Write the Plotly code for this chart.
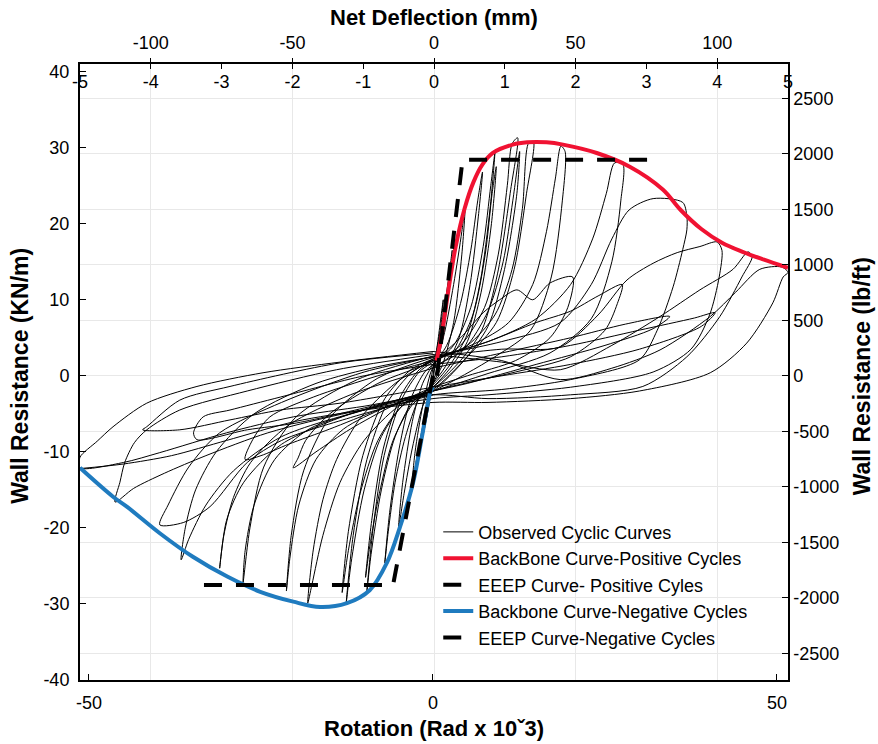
import plotly.graph_objects as go

# ---------------- data (Rotation in Rad x 10^-3, Wall resistance in kN/m) ----------------
backbone_pos_rot = [0.5, 1.2, 2.2, 3.3, 4.6, 5.9, 7.2, 8.7, 11.6, 13.7, 16.5, 18.9, 23.8, 28.6, 33.4, 36.0, 39.0, 42.0, 45.0, 48.0, 51.6]
backbone_pos_kn = [2.0, 5.0, 11.0, 17.0, 22.0, 25.5, 27.8, 29.3, 30.4, 30.7, 30.7, 30.4, 29.3, 27.5, 24.5, 21.8, 19.3, 17.5, 16.3, 15.3, 14.2]

backbone_neg_rot = [0.0, -0.4, -1.5, -2.9, -4.8, -6.7, -9.2, -12.5, -16.4, -20.3, -25.1, -29.9, -34.9, -39.7, -44.5, -46.5, -51.3]
backbone_neg_kn = [-1.5, -2.2, -7.5, -14.1, -19.9, -24.6, -28.2, -29.9, -30.4, -29.7, -28.4, -26.4, -23.8, -20.7, -17.2, -15.9, -12.1]

eeep_pos_rot = [0.6, 4.3, 32.0]
eeep_pos_kn = [0.0, 28.4, 28.4]
eeep_neg_rot = [0.0, -5.8, -34.3]
eeep_neg_kn = [0.0, -27.5, -27.5]

# observed cyclic loops, each a list of (rotation, kN/m) points
loop_01 = [(0,0),(0.7,4.5),(1.5,10),(1.2,7),(0.5,2.5),(0,-0.5),(-0.7,-4.5),(-1.5,-8),(-1.2,-5.5),(-0.5,-1.5),(0,1)]
loop_02 = [(0,1),(1.3,7),(2.3,13),(2.8,16.5),(2.4,12),(1.4,5),(0.3,0),(-1,-4.5),(-2.2,-10),(-3,-14),(-2.6,-10),(-1.5,-4),(-0.3,0.5),(0.5,2)]
loop_03 = [(0,1),(1.5,5),(3,12),(4.2,19),(4.7,22.5),(4.2,16),(3,7),(1.4,1.5),(0,-1),(-1.5,-4),(-3,-9.5),(-4.2,-15.5),(-5,-20),(-4.4,-14),(-3,-6),(-1.5,-1),(0,1.5)]
loop_04 = [(0,1.5),(2,4),(4,9.5),(5.5,16.5),(6.5,23),(7.2,26.8),(6.6,21),(5.4,12),(3.8,5),(1.8,1.2),(0,-1),(-2,-3),(-4,-8),(-5.5,-14),(-6.5,-20.5),(-7,-24.6),(-6.3,-18),(-4.9,-9.5),(-3.2,-3),(-1.2,0.5),(0,1.5)]
loop_05 = [(0,1.5),(3,4),(5.5,9),(7.3,17),(8.4,25),(9,29.3),(8.3,22),(6.9,12.5),(5,5.5),(2.6,1.6),(0,-1.2),(-3,-3.5),(-5.5,-8),(-7.5,-15),(-9,-23.5),(-9.6,-28.3),(-8.7,-20),(-7.1,-10.5),(-4.6,-3.2),(-2,0.5),(0,1.8)]
loop_06 = [(0,1),(3,3),(5.8,8),(7.6,16),(8.6,24),(9.2,27.5),(8.5,20),(7,11),(5,4.5),(2.5,1),(0,-1.5),(-3,-3.8),(-5.8,-8.5),(-7.8,-15.5),(-9.2,-22.5),(-9.8,-26.5),(-8.9,-19),(-7.2,-9.5),(-4.6,-2.5),(-2,0.8),(0,2)]
loop_07 = [(0,1.8),(4,4),(7.5,9),(9.5,16),(10.8,25),(11.5,30.5),(12.3,31.3),(11.3,24.5),(9.4,13.5),(7.1,6),(4,2),(0,-1.5),(-4,-3.5),(-7.5,-8),(-10,-15),(-11.8,-24),(-12.6,-29.8),(-11.6,-21),(-9.6,-11),(-6.6,-3.5),(-3,0.5),(0,2)]
loop_08 = [(0,1.2),(4.5,3.5),(8,8.5),(10.2,15),(11.6,23),(12.6,29.5),(12.2,24),(10.4,14),(8,6.5),(4.5,2),(0,-2),(-4.5,-4),(-8,-8.5),(-10.6,-15.5),(-12.3,-23),(-13.2,-28.5),(-12.3,-20.5),(-10.2,-10.5),(-7,-3),(-3.2,0.8),(0,2.2)]
loop_09 = [(0,2),(5,4),(9,8),(11.5,14),(13,22),(13.9,30.6),(14.6,30.8),(13.6,24),(11.8,14),(9.2,7),(5,2.5),(0,-1.8),(-5,-4),(-10,-8.5),(-13.5,-14),(-16,-21),(-17.6,-27.5),(-18.2,-29.9),(-17.4,-22.9),(-16,-16.3),(-14,-11),(-10.5,-5.5),(-5.5,-1),(0,2.2)]
loop_10 = [(0,2.2),(6,4.2),(11,7),(14.5,12),(16.5,19),(17.8,26),(18.6,30.2),(19.2,29.5),(18.8,23),(17.2,13),(14.2,6),(9,2.5),(0,-2),(-7,-4.2),(-13,-7),(-17,-11),(-19.5,-17),(-20.8,-24),(-21.3,-28.3),(-20.6,-21),(-18.8,-12.5),(-15,-5.5),(-8,-0.3),(0,2.4)]
loop_11 = [(0,2.4),(8,4.5),(15,7.5),(20,12),(23.2,18),(25.2,24),(26.4,28),(27.6,27.8),(27.3,23),(26,15),(23,7.5),(17,3),(8,0.3),(0,-2),(-10,-4.5),(-18,-7),(-23,-11),(-26,-17),(-27.3,-23),(-27.6,-27.2),(-26.6,-20),(-24.6,-12),(-20,-5.5),(-11,-0.5),(0,2.6)]
loop_12 = [(0,2.6),(10,4.5),(18.5,7),(23,12),(26,18),(28.5,21.8),(32,23.3),(36.3,22.8),(36.9,21),(36.9,19.2),(36.3,16.6),(34.9,11.7),(32.6,6),(30,2.1),(20,-0.5),(10,-1.8),(0,-2.5),(-10,-4.5),(-22,-8),(-29,-12.5),(-33,-17),(-35.5,-21.5),(-36.6,-24.2),(-36,-20),(-34.5,-15),(-31.5,-10),(-26,-5),(-17,-1),(-8,1.2),(0,2.5)]
loop_13 = [(0,2.5),(10,3.5),(18.5,3.8),(24,8),(28.2,12.6),(32,14.8),(35.5,16.2),(38.8,17),(41.3,17.6),(42,16.5),(41.6,13),(40.2,8),(37.5,3.5),(32,0.5),(20,-1.5),(8,-2.5),(0,-3),(-12,-4.8),(-24,-7.5),(-33,-10.5),(-39,-12.8),(-43.5,-14.8),(-46.2,-16.6),(-45.5,-14),(-44.8,-11.4),(-43.4,-8.8),(-41.6,-7.1),(-36.8,-4.5),(-27,-2),(-14,0.8),(0,2.8)]
loop_14 = [(0,2.8),(10,1.8),(18.5,0.8),(26,4),(33,7.8),(38.8,11.3),(43.6,14),(45.8,16.3),(46.4,15.7),(44.9,13),(41.7,7.8),(36.9,2.5),(30.5,-1.4),(20,-2.5),(8,-3),(0,-2.5),(-10,-4),(-20.3,-5.4),(-30,-7.5),(-39.7,-10.1),(-45,-11.4),(-51.3,-12.1),(-51.3,-10.7),(-48.8,-8.6),(-46.5,-6.7),(-41.6,-3.6),(-34.3,-1.4),(-24.7,0.4),(-13.5,1.8),(0,3.2)]
loop_15 = [(0,3.2),(10,2),(18.5,-0.5),(26,1),(33,3.4),(40.3,7.8),(44,11),(47.5,14),(50.7,14.3),(51.6,13.6),(50.9,13),(49.4,9.6),(45.6,4.3),(40.3,0.4),(30,-2),(20,-3),(8,-3.5),(0,-3.5),(-10,-4.5),(-20,-6),(-30,-8.5),(-38,-10.5),(-45,-11.6),(-51.3,-12.2)]
loop_16 = [(0,2),(4,5),(7.3,8.3),(9.7,10),(12.2,11.3),(14.5,10),(17,12.2),(20.3,13),(19.6,9),(17,5),(12,2),(5,0),(0,-1.5),(-6,-4),(-12,-7),(-17,-10),(-20.3,-12.1),(-19.6,-10.8),(-18.5,-8.5),(-15,-5),(-8,-1),(0,2)]
loop_17 = [(0,2.2),(8,4.5),(15,7),(20,8.5),(24,10.5),(27.5,12),(26.8,9.5),(25,6),(20,2.5),(12,0.5),(0,-2),(-8,-4.5),(-15,-7),(-21,-9),(-25,-10.5),(-27.3,-11),(-26.2,-8.4),(-23.7,-5.4),(-17.4,-2.8),(-8,0),(0,2)]
loop_18 = [(0,1),(10,3),(20,5),(28,6.8),(34.4,7.8),(32,6.2),(25,4),(15,1.5),(5,-1),(0,-2),(-8,-3.8),(-19.8,-6.2),(-27,-7.1),(-34.3,-8.4),(-34.8,-7.5),(-33.4,-5.4),(-29.5,-4.5),(-22.2,-2.8),(-10,0),(0,1.5)]
loop_19 = [(0,1.5),(10,2.5),(20,4),(30,6),(38,7.6),(41,8.3),(39,6.5),(30,3.5),(20,1.5),(10,0),(0,-1.5),(-13.5,-3.6),(-22.2,-4.5),(-29.5,-5.8),(-36.8,-7.1),(-42.2,-7.1),(-41.6,-6.7),(-36.8,-3.2),(-29.5,-1.4),(-13.5,1.7),(0,3)]
loop_20 = [(0,-2),(-12,-5),(-22,-9),(-27.5,-14),(-30,-19),(-31,-25.3),(-30.4,-21),(-29,-16),(-26.5,-11.4),(-21,-6.5),(-12,-2.5),(0,1)]
loop_21 = [(0,-2.5),(-12,-5.5),(-22,-8.5),(-27,-11.4),(-32.4,-17.2),(-36.3,-19.3),(-39.7,-19.6),(-38.5,-17),(-35.5,-12),(-31,-7.5),(-22,-3.5),(-10,0.5),(0,2.5)]

observed_loops = [loop_01, loop_02, loop_03, loop_04, loop_05, loop_06, loop_07, loop_08, loop_09, loop_10,
                  loop_11, loop_12, loop_13, loop_14, loop_15, loop_16, loop_17, loop_18, loop_19, loop_20, loop_21]

# axis ranges and tick labels
x_range = [-51.3, 51.6]
y_range = [-40, 41]
mm_range = [-125, 125]
inch_range = [-5, 5]
KN_TO_LBFT = 68.52

rot_ticks = [-50, 0, 50]
rot_labels = ["-50", "0", "50"]
mm_ticks = [-100, -50, 0, 50, 100]
mm_labels = ["-100", "-50", "0", "50", "100"]
inch_ticks = [-5, -4, -3, -2, -1, 0, 1, 2, 3, 4, 5]
inch_labels = ["-5", "-4", "-3", "-2", "-1", "0", "1", "2", "3", "4", "5"]
kn_ticks = [-40, -30, -20, -10, 0, 10, 20, 30, 40]
kn_labels = ["-40", "-30", "-20", "-10", "0", "10", "20", "30", "40"]
lbft_ticks = [-2500, -2000, -1500, -1000, -500, 0, 500, 1000, 1500, 2000, 2500]
lbft_labels = ["-2500", "-2000", "-1500", "-1000", "-500", "0", "500", "1000", "1500", "2000", "2500"]

# ---------------- figure ----------------
obs_x, obs_y = [], []
for loop in observed_loops:
    obs_x += [p[0] for p in loop] + [None]
    obs_y += [p[1] for p in loop] + [None]

FONT = "Liberation Sans, Arial, sans-serif"
fig = go.Figure()
fig.add_trace(go.Scatter(x=obs_x, y=obs_y, mode="lines", name="Observed Cyclic Curves",
                         line=dict(color="black", width=1, shape="spline", smoothing=0.8)))
fig.add_trace(go.Scatter(x=backbone_pos_rot, y=backbone_pos_kn, mode="lines", name="BackBone Curve-Positive Cycles",
                         line=dict(color="#f01232", width=4, shape="spline")))
fig.add_trace(go.Scatter(x=eeep_pos_rot, y=eeep_pos_kn, mode="lines", name="EEEP Curve- Positive Cyles",
                         line=dict(color="black", width=4, dash="18px,14px")))
fig.add_trace(go.Scatter(x=backbone_neg_rot, y=backbone_neg_kn, mode="lines", name="Backbone Curve-Negative Cycles",
                         line=dict(color="#1f7bbf", width=4, shape="spline")))
fig.add_trace(go.Scatter(x=eeep_neg_rot, y=eeep_neg_kn, mode="lines", name="EEEP Curve-Negative Cycles",
                         line=dict(color="black", width=4, dash="18px,14px")))

# invisible helpers to activate secondary axes
fig.add_trace(go.Scatter(x=mm_range, y=y_range, xaxis="x2", yaxis="y", mode="none", showlegend=False, hoverinfo="skip"))
fig.add_trace(go.Scatter(x=inch_range, y=y_range, xaxis="x3", yaxis="y", mode="none", showlegend=False, hoverinfo="skip"))
fig.add_trace(go.Scatter(x=x_range, y=[v * KN_TO_LBFT for v in y_range], xaxis="x", yaxis="y2", mode="none", showlegend=False, hoverinfo="skip"))

tickfont = dict(family=FONT, size=18, color="black")
fig.update_layout(
    width=878, height=744,
    margin=dict(l=80, r=90, t=64, b=64),
    paper_bgcolor="white", plot_bgcolor="white",
    font=dict(family=FONT, color="black"),
    xaxis=dict(range=x_range, tickvals=rot_ticks, ticktext=rot_labels, ticks="inside", ticklen=6, tickcolor="black",
               showline=True, linewidth=2, linecolor="black", showgrid=False, zeroline=False,
               tickfont=tickfont, ticklabelstandoff=5),
    xaxis2=dict(range=mm_range, overlaying="x", side="top", anchor="y", tickvals=mm_ticks, ticktext=mm_labels,
                ticks="outside", ticklen=4, tickcolor="black", showline=True, linewidth=1.5, linecolor="black",
                showgrid=True, gridcolor="#e8e8e8", gridwidth=1, zeroline=False, tickfont=tickfont,
                ticklabelstandoff=2),
    xaxis3=dict(range=inch_range, overlaying="x", side="top", anchor="y", tickvals=inch_ticks, ticktext=inch_labels,
                ticks="inside", ticklen=5, tickcolor="black", ticklabelposition="inside", ticklabeloverflow="allow",
                showline=False, showgrid=False, zeroline=False, tickfont=tickfont, ticklabelstandoff=7),
    yaxis=dict(range=y_range, tickvals=kn_ticks, ticktext=kn_labels, ticks="inside", ticklen=6, tickcolor="black",
               showline=True, linewidth=2, linecolor="black", showgrid=False, zeroline=False, tickfont=tickfont,
               ticklabelstandoff=5),
    yaxis2=dict(range=[v * KN_TO_LBFT for v in y_range], overlaying="y", side="right", anchor="x",
                tickvals=lbft_ticks, ticktext=lbft_labels,
                ticks="inside", ticklen=6, tickcolor="black", showline=True, linewidth=1.5, linecolor="black",
                showgrid=True, gridcolor="#e8e8e8", gridwidth=1, zeroline=False, tickfont=tickfont),
    legend=dict(x=0.506, y=0.27, xanchor="left", yanchor="top", bgcolor="rgba(255,255,255,0)",
                font=dict(family=FONT, size=18, color="black"), tracegroupgap=0, itemwidth=30),
    showlegend=True,
)

title_font_h = dict(family=FONT, size=22, color="black", weight="bold")
title_font_v = dict(family=FONT, size=23, color="black", weight="bold")
fig.add_annotation(text="Net Deflection (mm)", xref="paper", yref="paper", x=0.5, y=1.076,
                   showarrow=False, font=title_font_h, xanchor="center", yanchor="middle")
fig.add_annotation(text="Rotation (Rad x 10ˇ3)", xref="paper", yref="paper", x=0.5, y=-0.078,
                   showarrow=False, font=title_font_h, xanchor="center", yanchor="middle")
fig.add_annotation(text="Wall Resistance (KN/m)", xref="paper", yref="paper", x=-0.085, y=0.4935,
                   showarrow=False, font=title_font_v, textangle=-90, xanchor="center", yanchor="middle")
fig.add_annotation(text="Wall Resistance (lb/ft)", xref="paper", yref="paper", x=1.105, y=0.4935,
                   showarrow=False, font=title_font_v, textangle=-90, xanchor="center", yanchor="middle")

fig.write_html("out.html")
